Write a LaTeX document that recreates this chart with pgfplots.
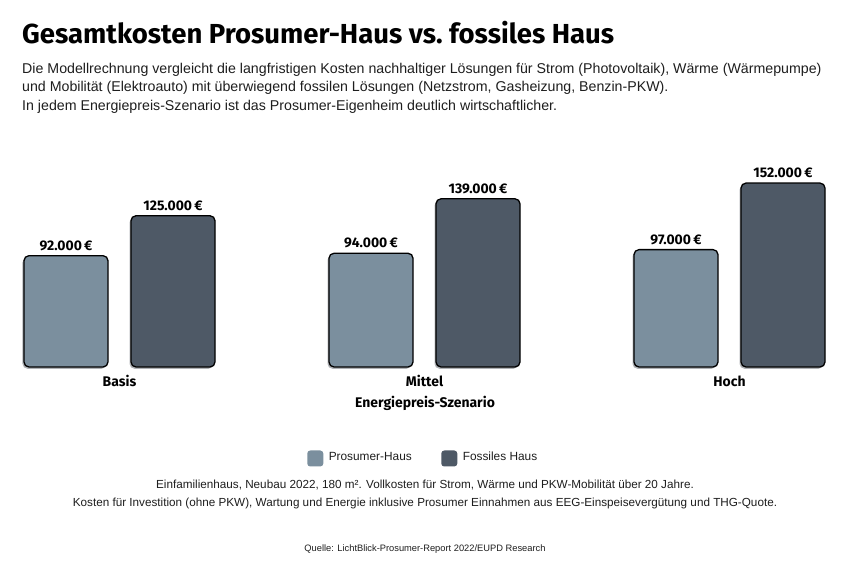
\documentclass[border=0pt]{standalone}
\usepackage{fontspec}
\usepackage{pgfplots}
\pgfplotsset{compat=1.18}
\setmainfont{Liberation Sans}
\newfontfamily\condfont{Fira Sans}
\definecolor{prosumer}{RGB}{123,143,158}
\definecolor{fossil}{RGB}{78,89,102}
\definecolor{txt}{RGB}{30,30,30}
\definecolor{shadowc}{RGB}{175,178,182}
\begin{document}
\begin{tikzpicture}[x=1bp,y=1bp]
\path[use as bounding box, fill=white] (0,0) rectangle (850,573);
\node[anchor=base west, inner sep=0] at (22,529) {\condfont\bfseries\fontsize{27.6}{30}\selectfont Gesamtkosten Prosumer-Haus vs.\ fossiles Haus};
\begin{scope}[every node/.style={anchor=base west, inner sep=0, text=txt, font=\fontsize{14.25}{18}\selectfont}]
\node at (22,499.5) {Die Modellrechnung vergleicht die langfristigen Kosten nachhaltiger Lösungen für Strom (Photovoltaik), Wärme (Wärmepumpe)};
\node at (22,481) {und Mobilität (Elektroauto) mit überwiegend fossilen Lösungen (Netzstrom, Gasheizung, Benzin-PKW).};
\node at (22,462.5) {In jedem Energiepreis-Szenario ist das Prosumer-Eigenheim deutlich wirtschaftlicher.};
\end{scope}
\begin{scope}[shift={(0bp,206bp)}]
\begin{axis}[
  at={(0bp,0bp)}, anchor=south west, scale only axis,
  width=850bp, height=200bp,
  xmin=-0.39180, xmax=2.39508, ymin=0, ymax=165289,
  ybar, bar width=84bp,
  axis line style={draw=none}, ytick=\empty,
  xtick={0,1,2}, xticklabels={Basis,Mittel,Hoch},
  major tick length=0pt, clip=false,
  xticklabel style={font=\condfont\bfseries\fontsize{14}{16}\selectfont, anchor=base, yshift=-20bp},
  xlabel={Energiepreis-Szenario},
  xlabel style={at={(axis description cs:0.5,0)}, anchor=base, yshift=-41bp, font=\condfont\bfseries\fontsize{14}{16}\selectfont},
  point meta=explicit symbolic,
  every node near coord/.append style={font=\condfont\bfseries\fontsize{14}{16}\selectfont, anchor=base, yshift=5.5bp, text=black},
  legend columns=2,
  legend style={draw=none, fill=none, at={(axis description cs:0.5,0)}, yshift=-91.5bp, anchor=center,
    font=\fontsize{11.9}{14}\selectfont, text=txt, /tikz/every even column/.append style={column sep=24bp},
    nodes={inner xsep=5.5bp, text height=0.72em, text depth=0.22em}},
  legend image code/.code={\fill[#1, draw=none, rounded corners=3bp] (0bp,-8bp) rectangle (16bp,8bp);},
]
% soft shadows behind the bars
\addplot[forget plot, fill=shadowc, draw=none, rounded corners=5bp, bar shift=-55bp, yshift=-1.8bp]
  coordinates {(0,92000) (1,94000) (2,97000)};
\addplot[forget plot, fill=shadowc, draw=none, rounded corners=5bp, bar shift=52bp, yshift=-1.8bp]
  coordinates {(0,125000) (1,139000) (2,152000)};
% bars
\addplot[fill=prosumer, draw=black, line width=1.3bp, rounded corners=5bp, bar shift=-53.5bp, nodes near coords]
  coordinates {(0,92000)[92.000\,€] (1,94000)[94.000\,€] (2,97000)[97.000\,€]};
\addplot[fill=fossil, draw=black, line width=1.3bp, rounded corners=5bp, bar shift=53.5bp, nodes near coords]
  coordinates {(0,125000)[125.000\,€] (1,139000)[139.000\,€] (2,152000)[152.000\,€]};
\legend{Prosumer-Haus, Fossiles Haus}
\end{axis}
\end{scope}
\begin{scope}[every node/.style={anchor=base, inner sep=0, text=txt}]
\node[font=\fontsize{11.75}{14}\selectfont] at (425,84) {Einfamilienhaus, Neubau 2022, 180 m². Vollkosten für Strom, Wärme und PKW-Mobilität über 20 Jahre.};
\node[font=\fontsize{11.75}{14}\selectfont] at (425,66) {Kosten für Investition (ohne PKW), Wartung und Energie inklusive Prosumer Einnahmen aus EEG-Einspeisevergütung und THG-Quote.};
\node[font=\fontsize{9.35}{11}\selectfont] at (425,21) {Quelle: LichtBlick-Prosumer-Report 2022/EUPD Research};
\end{scope}
\end{tikzpicture}
\end{document}
